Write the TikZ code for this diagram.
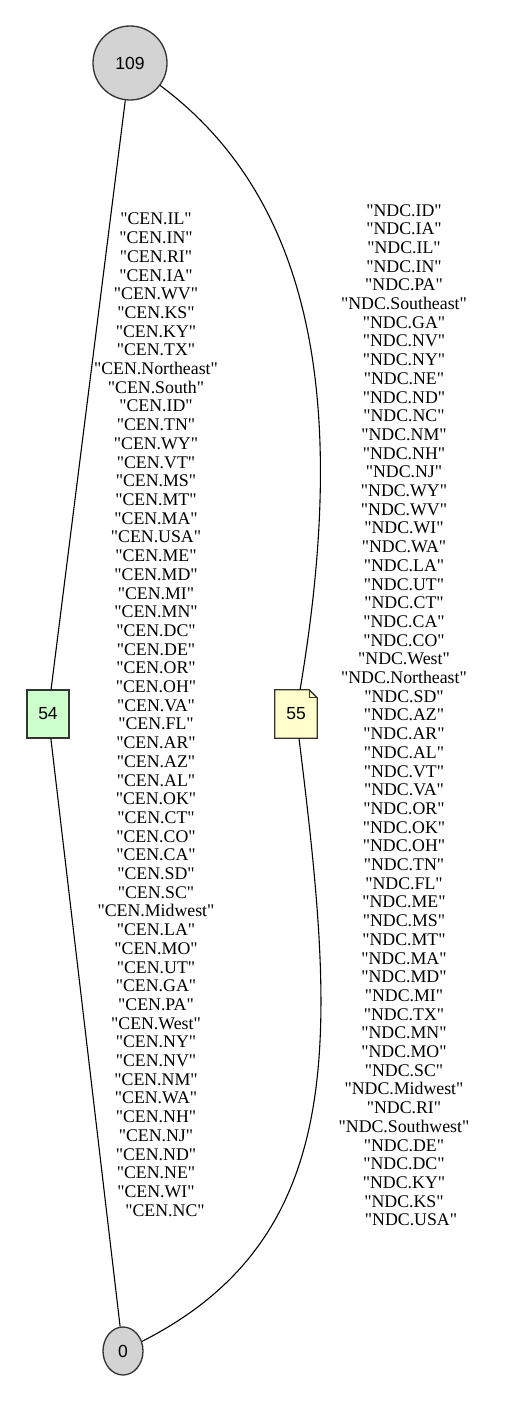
\documentclass[tikz,border=0pt]{standalone}
\usepackage{fontspec}
\newfontfamily\tms{Liberation Serif}
\newfontfamily\helv{Liberation Sans}
\usetikzlibrary{shapes.geometric,backgrounds}
\definecolor{nodegray}{HTML}{D3D3D3}
\definecolor{boxgreen}{HTML}{CCFFCC}
\definecolor{noteyellow}{HTML}{FFFFCC}
\definecolor{bordergray}{HTML}{333333}
\begin{document}
\begin{tikzpicture}[x=1pt,y=-1pt,
  edge/.style={draw=black, line width=1.1pt},
  numfont/.style={font=\helv\fontsize{17.5}{20}\selectfont},
  gnode/.style={numfont, draw=bordergray, line width=1.3pt, fill=nodegray, inner sep=0pt},
  boxnode/.style={numfont, draw=bordergray, line width=1.3pt, fill=boxgreen, rectangle, minimum width=42pt, minimum height=48pt, inner sep=0pt},
  notenode/.style={numfont, rectangle, minimum width=42pt, minimum height=48pt, inner sep=0pt},
  noteshape/.style={draw=bordergray, line width=1.3pt, fill=noteyellow, line join=miter},
  lbl/.style={font=\tms\fontsize{17.8}{18.7}\selectfont, align=center, inner sep=0pt, anchor=north}
]
\useasboundingbox (0,0) rectangle (517,1402);

\node[gnode, circle, minimum size=74pt] (n109) at (130,63) {109};
\node[gnode, ellipse, minimum width=40pt, minimum height=48pt] (n0) at (123,1351) {0};
\node[boxnode] (n54) at (48,714) {54};
\node[notenode] (n55) at (296,714) {55};
\begin{scope}[on background layer]
\fill[white] (0,0) rectangle (517,1402);
\filldraw[noteshape] (n55.north west) -- ([xshift=-8pt]n55.north east) -- ([yshift=-8pt]n55.north east) -- (n55.south east) -- (n55.south west) -- cycle;
\draw[draw=bordergray, line width=1pt] ([xshift=-8pt]n55.north east) |- ([yshift=-8pt]n55.north east);
\end{scope}

\draw[edge] (n109) -- (n54);
\draw[edge] (n54) -- (n0);
\draw[edge] (n109) .. controls (330,212) and (342,440) .. (n55);
\draw[edge] (n55) .. controls (335,1030) and (352,1235) .. (n0);

\node[lbl] (lcen) at (156,213) {"CEN.IL"\\"CEN.IN"\\"CEN.RI"\\"CEN.IA"\\"CEN.WV"\\"CEN.KS"\\"CEN.KY"\\"CEN.TX"\\"CEN.Northeast"\\"CEN.South"\\"CEN.ID"\\"CEN.TN"\\"CEN.WY"\\"CEN.VT"\\"CEN.MS"\\"CEN.MT"\\"CEN.MA"\\"CEN.USA"\\"CEN.ME"\\"CEN.MD"\\"CEN.MI"\\"CEN.MN"\\"CEN.DC"\\"CEN.DE"\\"CEN.OR"\\"CEN.OH"\\"CEN.VA"\\"CEN.FL"\\"CEN.AR"\\"CEN.AZ"\\"CEN.AL"\\"CEN.OK"\\"CEN.CT"\\"CEN.CO"\\"CEN.CA"\\"CEN.SD"\\"CEN.SC"\\"CEN.Midwest"\\"CEN.LA"\\"CEN.MO"\\"CEN.UT"\\"CEN.GA"\\"CEN.PA"\\"CEN.West"\\"CEN.NY"\\"CEN.NV"\\"CEN.NM"\\"CEN.WA"\\"CEN.NH"\\"CEN.NJ"\\"CEN.ND"\\"CEN.NE"\\"CEN.WI"\\\hspace*{18pt}"CEN.NC"};

\node[lbl] (lndc) at (404,204) {"NDC.ID"\\"NDC.IA"\\"NDC.IL"\\"NDC.IN"\\"NDC.PA"\\"NDC.Southeast"\\"NDC.GA"\\"NDC.NV"\\"NDC.NY"\\"NDC.NE"\\"NDC.ND"\\"NDC.NC"\\"NDC.NM"\\"NDC.NH"\\"NDC.NJ"\\"NDC.WY"\\"NDC.WV"\\"NDC.WI"\\"NDC.WA"\\"NDC.LA"\\"NDC.UT"\\"NDC.CT"\\"NDC.CA"\\"NDC.CO"\\"NDC.West"\\"NDC.Northeast"\\"NDC.SD"\\"NDC.AZ"\\"NDC.AR"\\"NDC.AL"\\"NDC.VT"\\"NDC.VA"\\"NDC.OR"\\"NDC.OK"\\"NDC.OH"\\"NDC.TN"\\"NDC.FL"\\"NDC.ME"\\"NDC.MS"\\"NDC.MT"\\"NDC.MA"\\"NDC.MD"\\"NDC.MI"\\"NDC.TX"\\"NDC.MN"\\"NDC.MO"\\"NDC.SC"\\"NDC.Midwest"\\"NDC.RI"\\"NDC.Southwest"\\"NDC.DE"\\"NDC.DC"\\"NDC.KY"\\"NDC.KS"\\\hspace*{14pt}"NDC.USA"};
\end{tikzpicture}
\end{document}
